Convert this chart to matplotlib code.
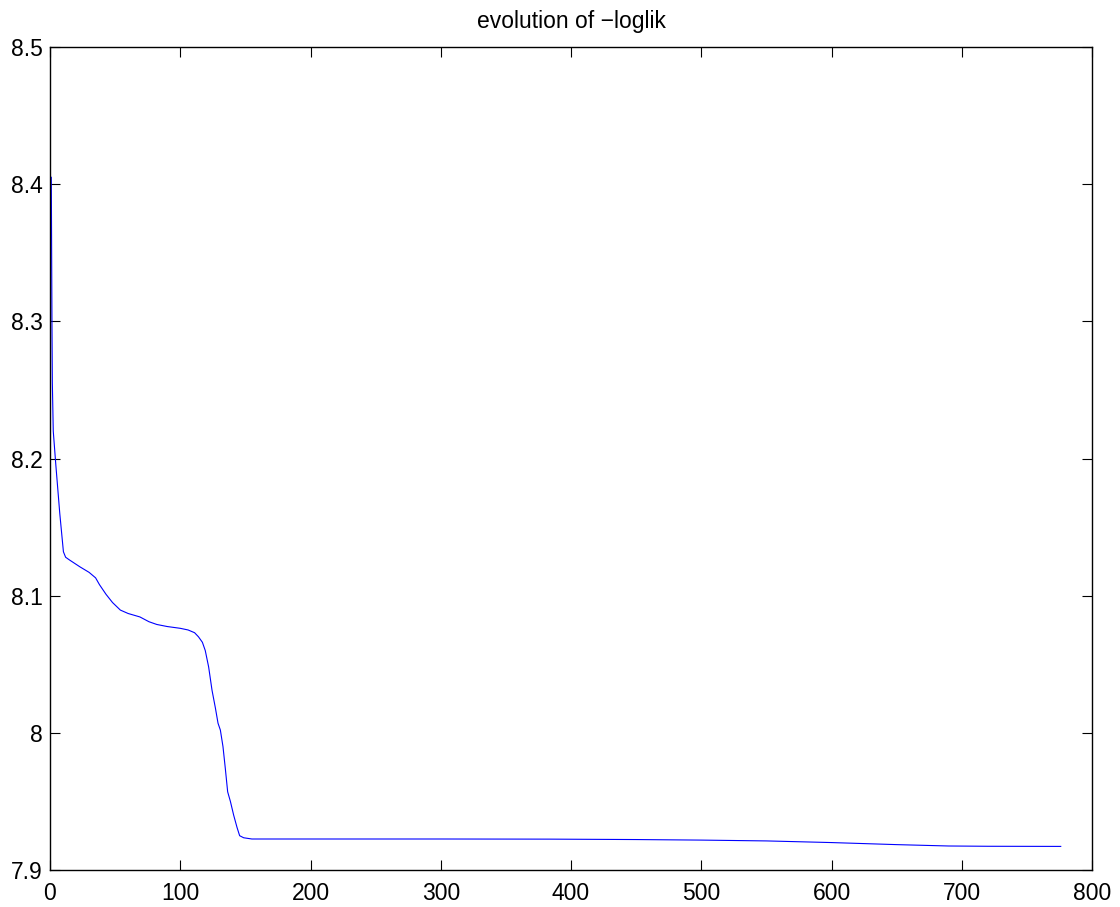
import matplotlib

matplotlib.use("Agg")
import matplotlib.pyplot as plt
from matplotlib.ticker import FuncFormatter

# iteration number and -loglik
iters = [1.0, 1.5, 1.8, 2.5, 4.5, 7.5, 10.3, 12, 15, 23, 30, 35, 38, 43, 48,
         54, 60, 69, 76, 82, 90, 100, 106, 111, 114, 117, 119.2, 121.8,
         124.4, 127, 129, 130.8, 132.8, 134.6, 136.4, 138.5, 141, 143.6,
         145.6, 148.7, 155, 200, 300, 384, 450, 500, 550, 600, 650, 690,
         720, 776]
negloglik = [8.405, 8.30, 8.255, 8.22, 8.195, 8.16, 8.132, 8.128, 8.126,
             8.121, 8.117, 8.113, 8.108, 8.101, 8.095, 8.0895, 8.087,
             8.0845, 8.081, 8.079, 8.0775, 8.0762, 8.075, 8.073, 8.070,
             8.066, 8.060, 8.048, 8.031, 8.018, 8.007, 8.002, 7.990, 7.974,
             7.957, 7.950, 7.940, 7.931, 7.925, 7.9235, 7.9226, 7.9226,
             7.9226, 7.9225, 7.9222, 7.9218, 7.9212, 7.9200, 7.9185,
             7.9175, 7.9173, 7.9172]

xticks = [0, 100, 200, 300, 400, 500, 600, 700, 800]
yticks = [7.9, 8.0, 8.1, 8.2, 8.3, 8.4, 8.5]

plt.rcParams["font.family"] = ["Liberation Sans", "DejaVu Sans"]

fig = plt.figure(figsize=(11.2, 9.07), dpi=100)
ax = fig.add_axes([50 / 1120, 1 - 870 / 907, 1042 / 1120, 823 / 907])
ax.plot(iters, negloglik, color="#0000ff", linewidth=0.8)

ax.set_xlim(0, 800)
ax.set_ylim(7.9, 8.5)
ax.set_xticks(xticks)
ax.set_yticks(yticks)
ax.yaxis.set_major_formatter(FuncFormatter(lambda v, p: f"{v:g}"))
ax.tick_params(direction="in", length=7, width=0.8, labelsize=16.5,
               top=True, right=True)
ax.tick_params(axis="x", pad=9)
ax.tick_params(axis="y", pad=5)
for s in ax.spines.values():
    s.set_linewidth(1.0)

ax.set_title("evolution of \u2212loglik", fontsize=16.5, pad=14)

fig.savefig("out.png", dpi=100)
